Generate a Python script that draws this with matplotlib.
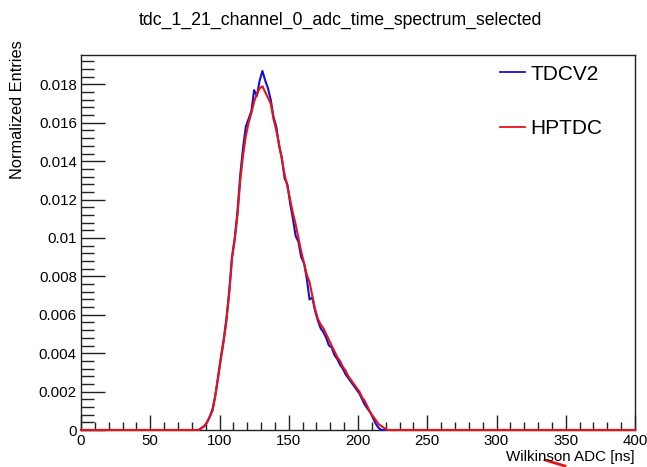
#!/usr/bin/env python3
"""Redraw the TDCV2 vs HPTDC Wilkinson ADC spectrum in ROOT style."""

import matplotlib

matplotlib.use("Agg")
import matplotlib.pyplot as plt
import numpy as np
from matplotlib.lines import Line2D
from matplotlib.ticker import FuncFormatter, MultipleLocator

plt.rcParams["font.family"] = ["Liberation Sans", "DejaVu Sans"]

TITLE = "tdc_1_21_channel_0_adc_time_spectrum_selected"
X_LABEL = "Wilkinson ADC [ns]"
Y_LABEL = "Normalized Entries"
SERIES_NAMES = ["TDCV2", "HPTDC"]

BIN_WIDTH = 2
X_RANGE = (0, 400)
FIRST_FILLED_BIN = 84  # left edge of the first listed bin

# normalized entries per 2 ns bin, bins starting at 84 ns
tdcv2 = [
    0.0000, 0.0001, 0.0002, 0.0004, 0.0007, 0.0011, 0.0018, 0.0028,
    0.0038, 0.0047, 0.0058, 0.0072, 0.0090, 0.0100, 0.0114, 0.0133,
    0.0147, 0.0158, 0.0162, 0.0166, 0.0177, 0.0174, 0.0182, 0.0187,
    0.0182, 0.0178, 0.0172, 0.0163, 0.0158, 0.0148, 0.0142, 0.0131,
    0.0128, 0.0118, 0.0110, 0.0101, 0.0098, 0.0090, 0.0087, 0.0079,
    0.0068, 0.0069, 0.0062, 0.0057, 0.0053, 0.0051, 0.0048, 0.0044,
    0.0043, 0.0039, 0.0037, 0.0034, 0.0032, 0.0029, 0.0027, 0.0025,
    0.0023, 0.0021, 0.0019, 0.0016, 0.0013, 0.0011, 0.0009, 0.0006,
    0.0003, 0.0001, 0.0000, 0.0000,
]
hptdc = [
    0.0000, 0.0001, 0.0002, 0.0004, 0.0007, 0.0010, 0.0018, 0.0027,
    0.0037, 0.0046, 0.0057, 0.0071, 0.0089, 0.0099, 0.0112, 0.0130,
    0.0143, 0.0153, 0.0160, 0.0165, 0.0171, 0.0175, 0.0178, 0.0179,
    0.0176, 0.0173, 0.0170, 0.0162, 0.0156, 0.0149, 0.0141, 0.0133,
    0.0127, 0.0120, 0.0113, 0.0107, 0.0100, 0.0093, 0.0087, 0.0081,
    0.0077, 0.0070, 0.0063, 0.0058, 0.0055, 0.0053, 0.0050, 0.0047,
    0.0044, 0.0041, 0.0038, 0.0036, 0.0033, 0.0031, 0.0028, 0.0026,
    0.0024, 0.0022, 0.0020, 0.0017, 0.0015, 0.0012, 0.0009, 0.0007,
    0.0005, 0.0003, 0.0002, 0.0001,
]
Y_MAX = 0.01953


def full_histogram(values):
    """Pad the listed bins with empty bins over the whole axis range."""
    edges = np.arange(X_RANGE[0], X_RANGE[1] + BIN_WIDTH, BIN_WIDTH)
    counts = np.zeros(len(edges) - 1)
    start = (FIRST_FILLED_BIN - X_RANGE[0]) // BIN_WIDTH
    counts[start:start + len(values)] = values
    centers = 0.5 * (edges[:-1] + edges[1:])
    xs = np.concatenate([[X_RANGE[0]], centers, [X_RANGE[1]]])
    ys = np.concatenate([[0.0], counts, [0.0]])
    return xs, ys


def main():
    fig = plt.figure(figsize=(6.47, 4.67), dpi=100)
    ax = fig.add_axes([81 / 647, 37 / 467, 554 / 647, 375 / 467])

    blue_x, blue_y = full_histogram(tdcv2)
    red_x, red_y = full_histogram(hptdc)
    ax.plot(blue_x, blue_y, color="#1010dd", linewidth=1.5, label=SERIES_NAMES[0],
            clip_on=False, zorder=3)
    ax.plot(red_x, red_y, color="#e81414", linewidth=1.5, label=SERIES_NAMES[1],
            clip_on=False, zorder=4)

    ax.set_xlim(*X_RANGE)
    ax.set_ylim(0, Y_MAX)
    ax.xaxis.set_major_locator(MultipleLocator(50))
    ax.xaxis.set_minor_locator(MultipleLocator(10))
    ax.yaxis.set_major_locator(MultipleLocator(0.002))
    ax.yaxis.set_minor_locator(MultipleLocator(0.0004))
    ax.yaxis.set_major_formatter(FuncFormatter(lambda v, _p: f"{v:g}" if v > 1e-9 else "0"))
    ax.tick_params(axis="both", which="both", direction="in", labelsize=10.8, width=1, color="#222222")
    ax.tick_params(axis="x", which="major", length=11, pad=3)
    ax.tick_params(axis="x", which="minor", length=6)
    ax.tick_params(axis="y", which="major", length=17, pad=3)
    ax.tick_params(axis="y", which="minor", length=9)
    for spine in ax.spines.values():
        spine.set_linewidth(1.0)
        spine.set_color("#222222")

    legend = ax.legend(
        loc="upper left",
        bbox_to_anchor=(0.757, 0.974),
        frameon=False,
        fontsize=15,
        handlelength=1.2,
        handletextpad=0.25,
        labelspacing=1.7,
        borderaxespad=0.0,
        borderpad=0.0,
    )
    for handle in legend.get_lines():
        handle.set_linewidth(1.3)

    fig.text(340 / 647, 1 - 20 / 467, TITLE, ha="center", va="center", fontsize=12.7)
    fig.text(18 / 647, 1 - 40 / 467, Y_LABEL, rotation=90, ha="center", va="top", fontsize=11.8)
    fig.text(635 / 647, 1 - 457 / 467, X_LABEL, ha="right", va="center", fontsize=10.9)
    # stray red pointer stroke under the axis title
    fig.add_artist(Line2D([545 / 647, 565 / 647], [1 - 460 / 467, 1 - 466 / 467],
                          color="#e81414", linewidth=2))

    fig.savefig("out.png", dpi=100)
    plt.close(fig)


if __name__ == "__main__":
    main()
